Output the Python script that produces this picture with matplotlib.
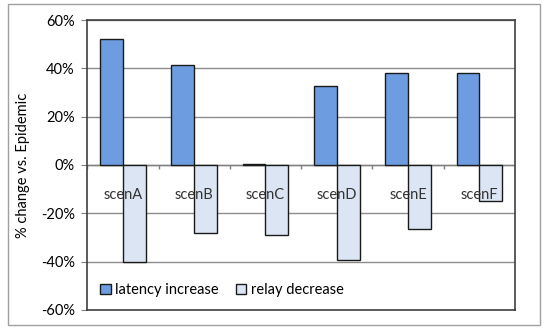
import matplotlib.pyplot as plt
import numpy as np
from matplotlib.patches import Rectangle

scenarios = ['scenA', 'scenB', 'scenC', 'scenD', 'scenE', 'scenF']
latency_increase = [52, 41.5, 0.5, 32.5, 38, 38.2]
relay_decrease = [-40, -28, -29, -39.5, -26.5, -15]

plt.rcParams['font.family'] = ['Lato', 'DejaVu Sans']

fig = plt.figure(figsize=(5.45, 3.29), dpi=100)
# outer chart frame
fig.patches.append(Rectangle((0.015, 0.012), 0.975, 0.975, transform=fig.transFigure,
                             fill=False, edgecolor='#a0a0a0', lw=1.0))
ax = fig.add_axes([0.16, 0.058, 0.785, 0.881])

x = np.arange(len(scenarios))
w = 0.32
ax.bar(x - w / 2, latency_increase, w, color='#6d9de0', edgecolor='#1a1a1a', lw=1.0,
       label='latency increase', zorder=3)
ax.bar(x + w / 2, relay_decrease, w, color='#dbe5f3', edgecolor='#1a1a1a', lw=1.0,
       label='relay decrease', zorder=3)

ax.set_xlim(-0.5, len(scenarios) - 0.5)
ax.set_ylim(-60, 60)
ax.set_yticks(np.arange(-60, 61, 20))
ax.set_yticklabels([f'{v}%' for v in range(-60, 61, 20)], fontsize=10.5)
ax.tick_params(axis='y', length=4, color='#808080', pad=5)
ax.set_xticks([])
ax.yaxis.grid(True, color='#8c8c8c', lw=1.0, zorder=0)
for s in ax.spines.values():
    s.set_color('#404040')
    s.set_linewidth(1.2)

# category axis at zero
ax.axhline(0, color='#808080', lw=1.0, zorder=2)
ax.vlines(np.arange(len(scenarios) + 1) - 0.5, -1.8, 0, color='#808080', lw=1.0, zorder=2)
for xi, name in zip(x, scenarios):
    ax.text(xi, -12.5, name, ha='center', va='center', fontsize=10.5, color='#333333', zorder=4)

ax.set_ylabel('% change vs. Epidemic', fontsize=10.5, labelpad=8)

ax.legend(loc='lower left', bbox_to_anchor=(0.0, 0.0), ncol=2, frameon=False,
          fontsize=10.5, handlelength=0.7, handleheight=0.7, handletextpad=0.3,
          columnspacing=1.2)

fig.savefig('out.png', dpi=100)
